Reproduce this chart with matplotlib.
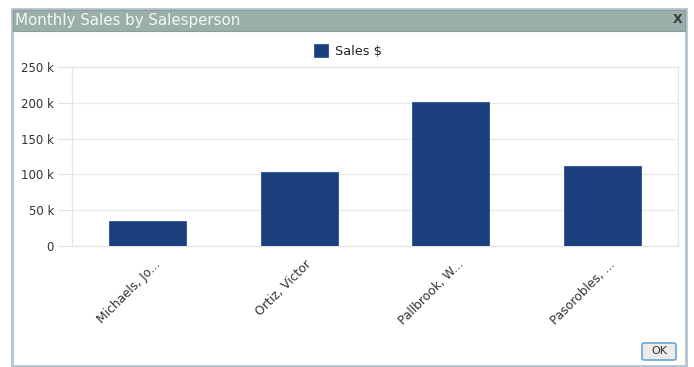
import matplotlib
matplotlib.use("Agg")
import matplotlib.pyplot as plt
from matplotlib.patches import Rectangle, FancyBboxPatch
import matplotlib.transforms as mtransforms

categories = ["Michaels, Jo...", "Ortiz, Victor", "Pallbrook, W...", "Pasorobles, ..."]
sales = [35000, 103000, 201000, 112000]
y_ticks = [0, 50000, 100000, 150000, 200000, 250000]
y_tick_labels = ["0", "50 k", "100 k", "150 k", "200 k", "250 k"]
series_name = "Sales $"
title = "Monthly Sales by Salesperson"

W, H = 694, 367
fig = plt.figure(figsize=(W / 100, H / 100), dpi=100)
fig.patch.set_facecolor("white")

def fx(px):
    return px / W

def fy(py):
    return 1 - py / H

# window frame
fig.patches.append(Rectangle((fx(12), fy(366)), fx(686) - fx(12), fy(9) - fy(366),
                             transform=fig.transFigure, facecolor="none",
                             edgecolor="#b4c3cf", linewidth=2, zorder=0))
# title bar
fig.patches.append(Rectangle((fx(13), fy(31)), fx(685) - fx(13), fy(10) - fy(31),
                             transform=fig.transFigure, facecolor="#9bafaa",
                             edgecolor="#8a9c98", linewidth=0.8, zorder=1))
fig.text(fx(15), fy(20.5), title, color="#f4f7f6", fontsize=10.8, va="center", ha="left",
         family="DejaVu Sans")
fig.text(fx(678), fy(19.5), "X", color="#3a3a3a", fontsize=9, va="center", ha="center",
         family="DejaVu Sans", fontweight="bold")

# OK button
fig.patches.append(FancyBboxPatch((fx(642), fy(360)), fx(676) - fx(642), fy(343) - fy(360),
                                  boxstyle="round,pad=0,rounding_size=0.004",
                                  transform=fig.transFigure, facecolor="#ececec",
                                  edgecolor="#6aa6d6", linewidth=1.2, zorder=2))
fig.text(fx(659), fy(351.5), "OK", color="#333333", fontsize=8, va="center", ha="center",
         zorder=3)

# plot area
ax = fig.add_axes([fx(72), fy(246), fx(678) - fx(72), fy(67) - fy(246)])
ax.set_zorder(5)
ax.patch.set_alpha(0)
x = list(range(len(categories)))
bars = ax.bar(x, sales, width=0.51, color="#1b3f7c", edgecolor="#2d5290", linewidth=0.6,
              label=series_name, zorder=3)
ax.set_xlim(-0.5, len(categories) - 0.5)
ax.set_ylim(0, 250000)
ax.set_yticks(y_ticks)
ax.set_yticklabels(y_tick_labels)
ax.yaxis.grid(True, color="#ebebeb", linewidth=1, zorder=0)
ax.set_axisbelow(True)
for s in ax.spines.values():
    s.set_color("#e6e6e6")
    s.set_linewidth(1)
ax.tick_params(axis="y", length=10, color="#e0e0e0", labelsize=8.5, labelcolor="#333333", pad=3)
ax.tick_params(axis="x", length=0, labelsize=8.8, labelcolor="#333333")
ax.set_xticks(x)
ax.set_xticklabels(categories, rotation=45, ha="right", rotation_mode="anchor")
offset = mtransforms.ScaledTranslation(6 / 100, -7 / 100, fig.dpi_scale_trans)
for lbl in ax.get_xticklabels():
    lbl.set_transform(lbl.get_transform() + offset)

fig.legend(handles=[bars], labels=[series_name], loc="center", bbox_to_anchor=(fx(348), fy(51)),
           frameon=False, fontsize=9.3, handlelength=1.1, handleheight=1.1, handletextpad=0.5,
           labelcolor="#222222")

fig.savefig("out.png", dpi=100)
